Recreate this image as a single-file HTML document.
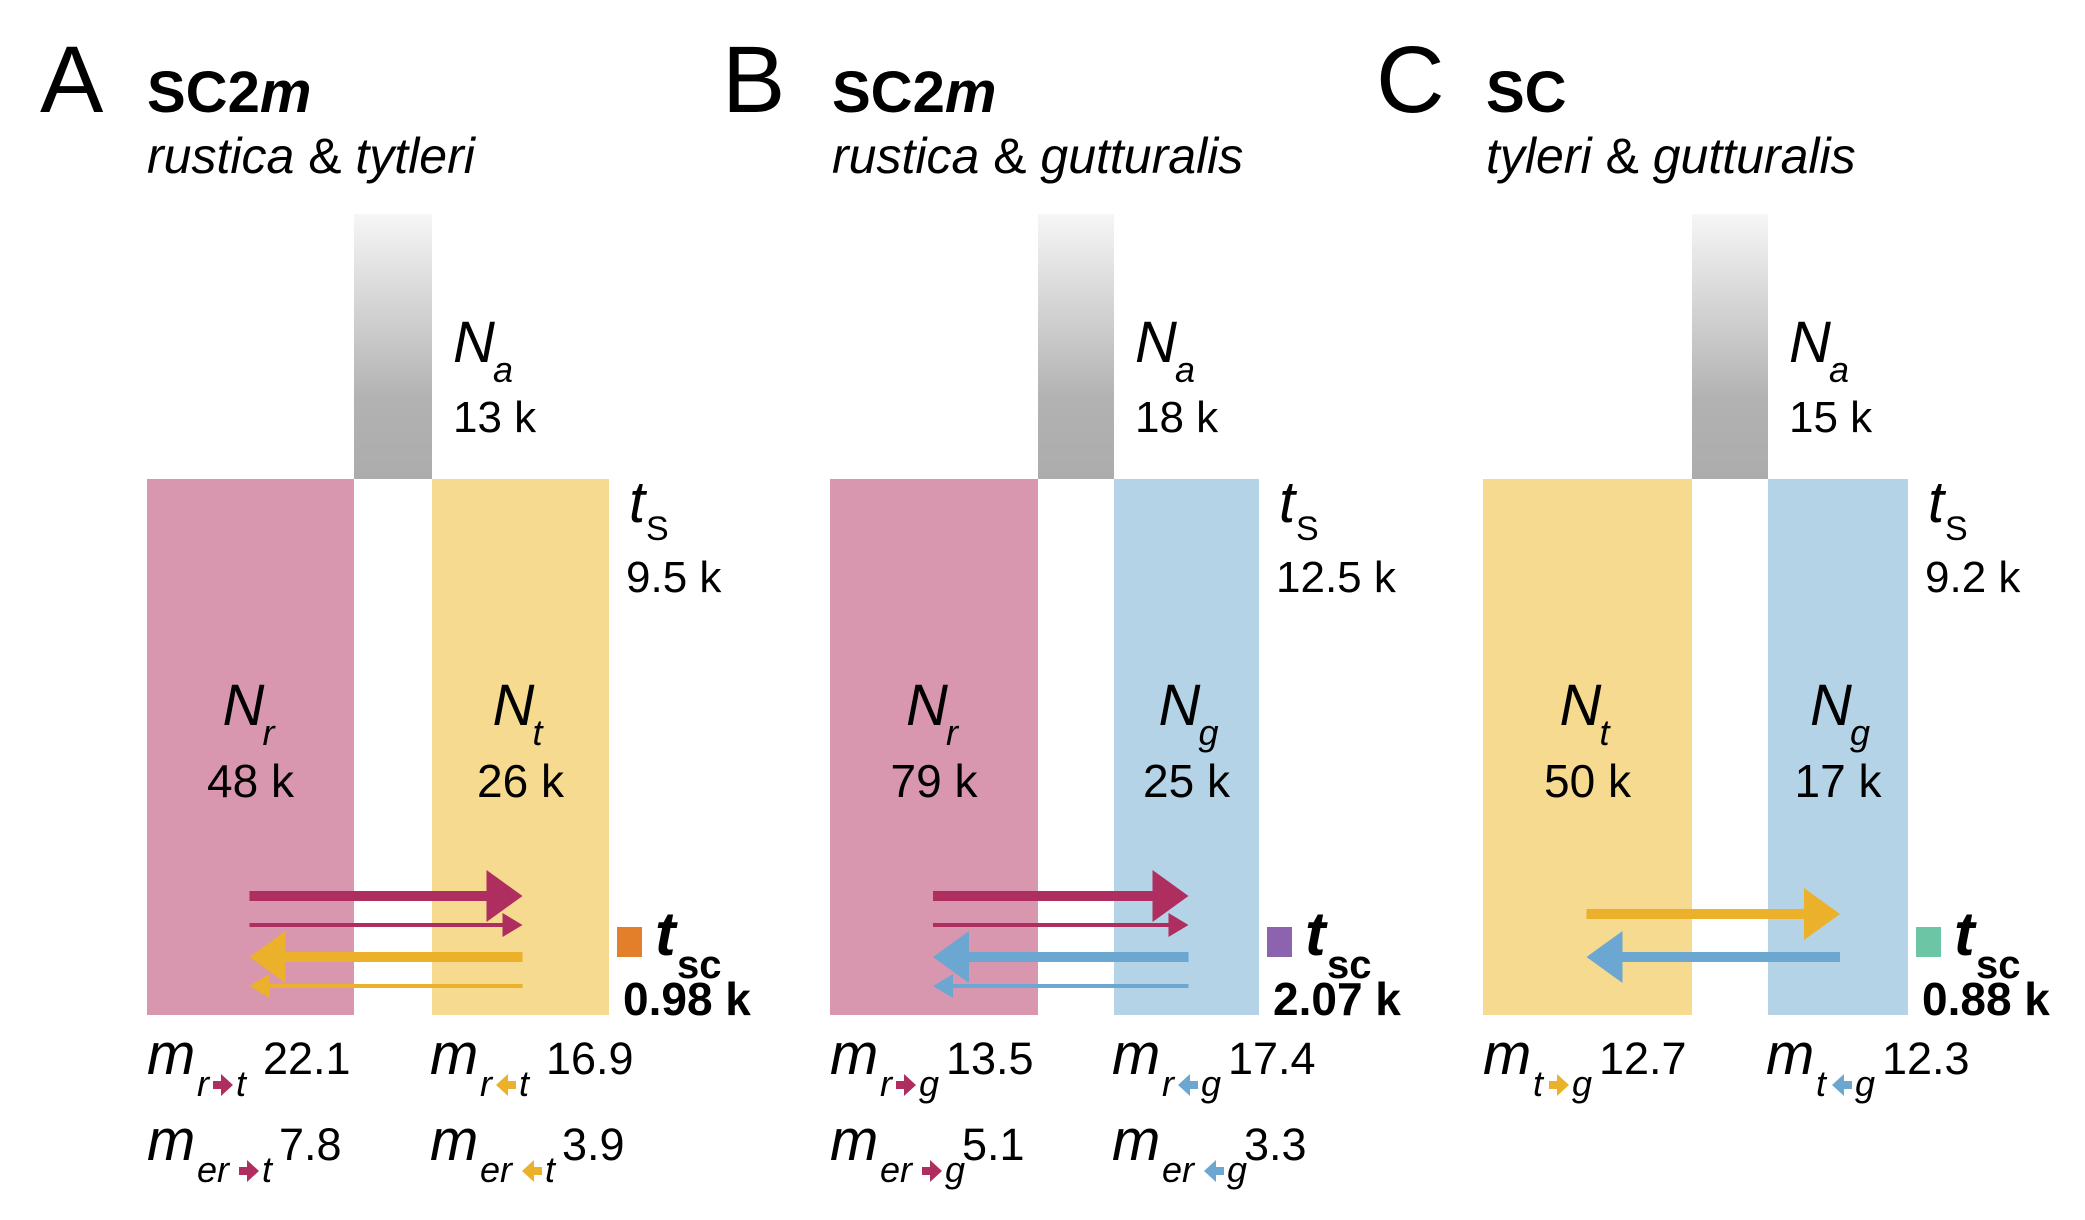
<!DOCTYPE html>
<html><head><meta charset="utf-8">
<style>
html,body{margin:0;padding:0;background:#fff;}
svg{display:block;font-family:"Liberation Sans",sans-serif;}
</style></head>
<body>
<svg id="fig" width="2085" height="1220" viewBox="0 0 2085 1220" xmlns="http://www.w3.org/2000/svg">
<defs>
<linearGradient id="anc" x1="0" y1="0" x2="0" y2="1">
<stop offset="0" stop-color="#f6f6f6"/><stop offset="0.7" stop-color="#b2b2b2"/><stop offset="1" stop-color="#acacac"/>
</linearGradient>
</defs>
</svg>
<script>
const NS="http://www.w3.org/2000/svg";
const svg=document.getElementById('fig');
const panelLetters=["A","B","C"];
const models=["SC2m","SC2m","SC"];
const popLeft=["rustica","rustica","tyleri"];
const popRight=["tytleri","gutturalis","gutturalis"];
const subL=["r","r","t"];
const subR=["t","g","g"];
const NaVals=["13 k","18 k","15 k"];
const tsVals=["9.5 k","12.5 k","9.2 k"];
const NlVals=["48 k","79 k","50 k"];
const NrVals=["26 k","25 k","17 k"];
const tscVals=["0.98 k","2.07 k","0.88 k"];
const mFwd=["22.1","13.5","12.7"];
const mBwd=["16.9","17.4","12.3"];
const meFwd=["7.8","5.1",null];
const meBwd=["3.9","3.3",null];

// layout (not data)
const L=[
 {letter:40,title:147,l0:147,g0:354,g1:432,r1:609,lc:"#d897ae",rc:"#f5da8f",la:"#ae2e5f",ra:"#ebb12a",sq:"#e37f2a"},
 {letter:722,title:832,l0:830,g0:1038,g1:1114,r1:1259,lc:"#d897ae",rc:"#b5d3e6",la:"#ae2e5f",ra:"#6ba7d1",sq:"#8b63ae"},
 {letter:1376,title:1486,l0:1483,g0:1692,g1:1768,r1:1908,lc:"#f5da8f",rc:"#b5d3e6",la:"#ebb12a",ra:"#6ba7d1",sq:"#6cc6a5"}
];
function mk(tag,attrs,parent){const e=document.createElementNS(NS,tag);for(const k in attrs)e.setAttribute(k,attrs[k]);(parent||svg).appendChild(e);return e;}
function txt(x,y,s,size,opts,parent){const e=mk('text',Object.assign({x:x,y:y,'font-size':size,fill:'#000'},opts||{}),parent);e.textContent=s;return e;}
function arrow(g,x1,x2,y,w,head,hh,color){
  const dir=x2>x1?1:-1;
  const hb=x2-dir*head;
  mk('rect',{x:Math.min(x1,hb),y:y-w/2,width:Math.abs(hb-x1),height:w,fill:color},g);
  mk('polygon',{points:`${hb},${y-hh} ${x2},${y} ${hb},${y+hh}`,fill:color},g);
}
function mlabel(g,x,y,sub,dirRight,color,val,valx){
  txt(x,y,"m",58,{'font-style':'italic'},g);
  txt(x+50,y+22,sub[0],36,{'font-style':'italic'},g);
  const w1=sub[0].length===2?40:14;
  const ax=x+50+w1+2, ay=y+11;
  mk('polygon',{points: dirRight?`${ax},${ay-4} ${ax+8},${ay-4} ${ax+8},${ay-11} ${ax+20},${ay} ${ax+8},${ay+11} ${ax+8},${ay+4} ${ax},${ay+4}`:`${ax+20},${ay-4} ${ax+12},${ay-4} ${ax+12},${ay-11} ${ax},${ay} ${ax+12},${ay+11} ${ax+12},${ay+4} ${ax+20},${ay+4}`,fill:color},g);
  txt(ax+23,y+22,sub[1],36,{'font-style':'italic'},g);
  txt(valx,y,val,45,{},g);
}
for(let i=0;i<3;i++){
  const p=L[i];
  const g=mk('g',{});
  
  
  const t1=txt(p.letter,112,panelLetters[i],95,{},g);
  
  
  const tt=mk('text',{x:p.title,y:112,'font-size':58,'font-weight':'bold'},g);
  
  
  const mm=models[i];
  const ts1=mk('tspan',{},tt);ts1.textContent=mm.endsWith('m')?mm.slice(0,-1):mm;
  if(mm.endsWith('m')){const ts2=mk('tspan',{'font-style':'italic'},tt);ts2.textContent='m';}
  const st=mk('text',{x:p.title,y:173,'font-size':50},g);
  
  
  const s1=mk('tspan',{'font-style':'italic'},st);s1.textContent=popLeft[i];
  const s2=mk('tspan',{},st);s2.textContent=' & ';
  const s3=mk('tspan',{'font-style':'italic'},st);s3.textContent=popRight[i];
  const anc=mk('rect',{x:p.g0,y:214,width:p.g1-p.g0,height:265,fill:'url(#anc)'},g);
  
  
  const lb=mk('rect',{x:p.l0,y:479,width:p.g0-p.l0,height:536,fill:p.lc},g);
  
  
  const rb=mk('rect',{x:p.g1,y:479,width:p.r1-p.g1,height:536,fill:p.rc},g);
  
  
  const na=p.g1+21;
  txt(na,362,"N",58,{'font-style':'italic'},g);
  txt(na+40,382,"a",36,{'font-style':'italic'},g);
  const nav=txt(na,432,NaVals[i],44,{},g);
  
  
  const tx=p.r1+17;
  txt(tx+3,522,"t",58,{'font-style':'italic'},g);
  txt(tx+20,540,"S",34,{},g);
  const tsv=txt(tx,592,tsVals[i],44,{},g);
  
  
  const lc=(p.l0+p.g0)/2, rc=(p.g1+p.r1)/2;
  txt(lc-28,725,"N",58,{'font-style':'italic'},g);
  txt(lc+12,745,subL[i],36,{'font-style':'italic'},g);
  const nl=txt(lc,797,NlVals[i],46,{'text-anchor':'middle'},g);
  
  
  txt(rc-28,725,"N",58,{'font-style':'italic'},g);
  txt(rc+12,745,subR[i],36,{'font-style':'italic'},g);
  const nr=txt(rc,797,NrVals[i],46,{'text-anchor':'middle'},g);
  
  
  const ax0=lc-1, ax1=rc+2;
  const ag=mk('g',{});
  g.appendChild(ag);
  
  
  if(meFwd[i]!==null){
    arrow(ag,ax0,ax1,896,10,36,26,p.la);
    arrow(ag,ax0,ax1,925,4,20,12,p.la);
    arrow(ag,ax1,ax0,957,10,36,26,p.ra);
    arrow(ag,ax1,ax0,986,4,20,12,p.ra);
  } else {
    arrow(ag,ax0,ax1,914,10,36,26,p.la);
    arrow(ag,ax1,ax0,957,10,36,26,p.ra);
  }
  const sq=mk('rect',{x:p.r1+8,y:927,width:25,height:30,fill:p.sq},g);
  
  
  txt(p.r1+46,955,"t",62,{'font-style':'italic','font-weight':'bold'},g);
  txt(p.r1+68,978,"sc",40,{'font-weight':'bold'},g);
  const tv=txt(p.r1+14,1015,tscVals[i],46,{'font-weight':'bold'},g);
  
  
  const mg=mk('g',{});
  g.appendChild(mg);
  
  
  const rx=p.g1-2;
  mlabel(mg,p.l0,1074,[subL[i],subR[i]],true,p.la,mFwd[i],p.l0+116);
  mlabel(mg,rx,1074,[subL[i],subR[i]],false,p.ra,mBwd[i],rx+116);
  if(meFwd[i]!==null){
    mlabel(mg,p.l0,1160,["er",subR[i]],true,p.la,meFwd[i],p.l0+132);
    mlabel(mg,rx,1160,["er",subR[i]],false,p.ra,meBwd[i],rx+132);
  }
}
</script>
</body></html>
